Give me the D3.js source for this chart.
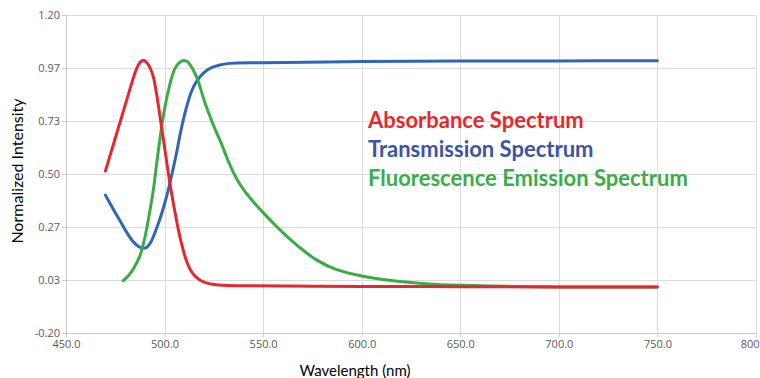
<!DOCTYPE html>
<html>
<head>
<meta charset="utf-8">
<script src="https://cdn.jsdelivr.net/npm/d3@7"></script>
<style>
  body { margin: 0; background: #fff; }
  text { font-family: "Open Sans", sans-serif; }
</style>
</head>
<body>
<div id="chart"></div>
<script>
// valores (comprimento de onda em nm, intensidade normalizada)
const absWl = [470, 474, 478, 481, 483.3, 485, 486.7, 488.3, 489.7, 491.5, 493, 494.3, 496, 497.7, 500.2, 502.7, 505, 507, 509, 511, 513, 516, 520, 526, 540, 600, 650, 700, 750];
const absVal = [0.513, 0.629, 0.745, 0.832, 0.899, 0.945, 0.98, 0.997, 1.0, 0.985, 0.96, 0.928, 0.85, 0.752, 0.606, 0.459, 0.345, 0.255, 0.18, 0.12, 0.08, 0.046, 0.024, 0.012, 0.008, 0.005, 0.004, 0.003, 0.002];

const transWl = [470, 474, 478, 481, 484, 487, 489, 491, 493, 496, 498.5, 501, 503.5, 506, 508.5, 511, 513.5, 516, 519.6, 523, 528, 533, 550, 600, 650, 700, 750];
const transVal = [0.407, 0.345, 0.285, 0.24, 0.203, 0.18, 0.173, 0.178, 0.2, 0.262, 0.325, 0.40, 0.49, 0.59, 0.70, 0.79, 0.86, 0.905, 0.943, 0.965, 0.98, 0.987, 0.99, 0.995, 0.997, 0.998, 0.999];

const fluoWl = [479, 482, 485, 487.5, 490, 492.6, 494.3, 496.8, 499.3, 501, 502.7, 505.3, 507.5, 509.5, 511.5, 513, 515, 517, 519, 521, 523, 525, 529, 531, 533, 535, 537, 539, 541, 545, 550, 555, 560, 568.6, 577, 587, 600, 617, 634, 651, 678, 700, 750];
const fluoVal = [0.03, 0.055, 0.095, 0.14, 0.22, 0.34, 0.43, 0.6, 0.752, 0.83, 0.895, 0.965, 0.99, 1.0, 0.995, 0.98, 0.95, 0.91, 0.855, 0.80, 0.755, 0.71, 0.63, 0.585, 0.543, 0.505, 0.473, 0.445, 0.42, 0.378, 0.33, 0.285, 0.242, 0.176, 0.122, 0.08, 0.051, 0.029, 0.016, 0.010, 0.005, 0.003, 0.002];

const xTicks = [450, 500, 550, 600, 650, 700, 750, 800];
const xTickLabels = ["450.0", "500.0", "550.0", "600.0", "650.0", "700.0", "750.0", "800"];
const yTicks = [-0.2, -0.2 + 1.4 / 6, -0.2 + 2.8 / 6, 0.5, -0.2 + 5.6 / 6, -0.2 + 7 / 6, 1.2];
const yTickLabels = ["-0.20", "0.03", "0.27", "0.50", "0.73", "0.97", "1.20"];

const seriesNames = ["Absorbance Spectrum", "Transmission Spectrum", "Fluorescence Emission Spectrum"];
const lineColors = ["#e8262d", "#2f66b7", "#3aac47"];
const textColors = ["#e8262d", "#3b55a4", "#3aad4a"];

function generateChart() {
    const width = 760, height = 378;
    const margin = { top: 15, right: 4, bottom: 45, left: 66 };

    const svg = d3.select("#chart").append("svg")
        .attr("width", width)
        .attr("height", height);

    const x = d3.scaleLinear()
        .domain([450, 800])
        .range([margin.left, width - margin.right]);

    const y = d3.scaleLinear()
        .domain([-0.2, 1.2])
        .range([height - margin.bottom, margin.top]);

    // linhas de grade
    svg.append("g")
        .selectAll("line")
        .data(yTicks.slice(1))
        .enter().append("line")
        .attr("x1", margin.left).attr("x2", width - margin.right)
        .attr("y1", d => Math.round(y(d)) + 0.5).attr("y2", d => Math.round(y(d)) + 0.5)
        .attr("stroke", "#dcdcdc");

    svg.append("g")
        .selectAll("line")
        .data(xTicks.slice(1))
        .enter().append("line")
        .attr("x1", d => Math.round(x(d)) + 0.5).attr("x2", d => Math.round(x(d)) + 0.5)
        .attr("y1", margin.top).attr("y2", height - margin.bottom)
        .attr("stroke", "#dcdcdc");

    // eixos
    const xAxis = svg.append("g")
        .attr("transform", `translate(0,${height - margin.bottom})`)
        .call(d3.axisBottom(x).tickValues(xTicks).tickSize(4).tickPadding(3)
            .tickFormat((d, i) => xTickLabels[i]));

    const yAxis = svg.append("g")
        .attr("transform", `translate(${margin.left},0)`)
        .call(d3.axisLeft(y).tickValues(yTicks).tickSize(4).tickPadding(2)
            .tickFormat((d, i) => yTickLabels[i]));

    [xAxis, yAxis].forEach(ax => {
        ax.select(".domain").attr("stroke", "#c8c8c8");
        ax.selectAll(".tick line").attr("stroke", "#c8c8c8");
        ax.selectAll(".tick text")
            .attr("fill", "#595959")
            .style("font-size", "11px")
            .style("font-family", "'Open Sans', sans-serif");
    });

    // o último rótulo fica encostado na borda direita
    xAxis.selectAll(".tick text")
        .filter(d => d === 800)
        .attr("text-anchor", "end")
        .attr("x", 3);

    // curvas
    const line = d3.line()
        .x(d => x(d[0]))
        .y(d => y(d[1]))
        .curve(d3.curveCatmullRom.alpha(0.5));

    const series = [
        d3.zip(absWl, absVal),
        d3.zip(transWl, transVal),
        d3.zip(fluoWl, fluoVal)
    ];

    [1, 2, 0].forEach(i => {
        svg.append("path")
            .datum(series[i])
            .attr("fill", "none")
            .attr("stroke", lineColors[i])
            .attr("stroke-width", 3)
            .attr("stroke-linejoin", "round")
            .attr("stroke-linecap", "round")
            .attr("d", line);
    });

    // legenda em texto
    svg.append("g")
        .selectAll("text")
        .data(seriesNames)
        .enter().append("text")
        .attr("x", 368)
        .attr("y", (d, i) => 127.5 + i * 29.3)
        .attr("fill", (d, i) => textColors[i])
        .style("font-family", "Lato, sans-serif")
        .style("font-size", "22px")
        .style("font-weight", "bold")
        .text(d => d);

    // títulos dos eixos
    svg.append("text")
        .attr("x", 355)
        .attr("y", 376)
        .attr("text-anchor", "middle")
        .attr("fill", "#000")
        .style("font-family", "Lato, sans-serif")
        .style("font-size", "15px")
        .text("Wavelength (nm)");

    svg.append("text")
        .attr("transform", "translate(23,171) rotate(-90)")
        .attr("text-anchor", "middle")
        .attr("fill", "#000")
        .style("font-family", "Lato, sans-serif")
        .style("font-size", "16px")
        .text("Normalized Intensity");
}

generateChart();
</script>
</body>
</html>
